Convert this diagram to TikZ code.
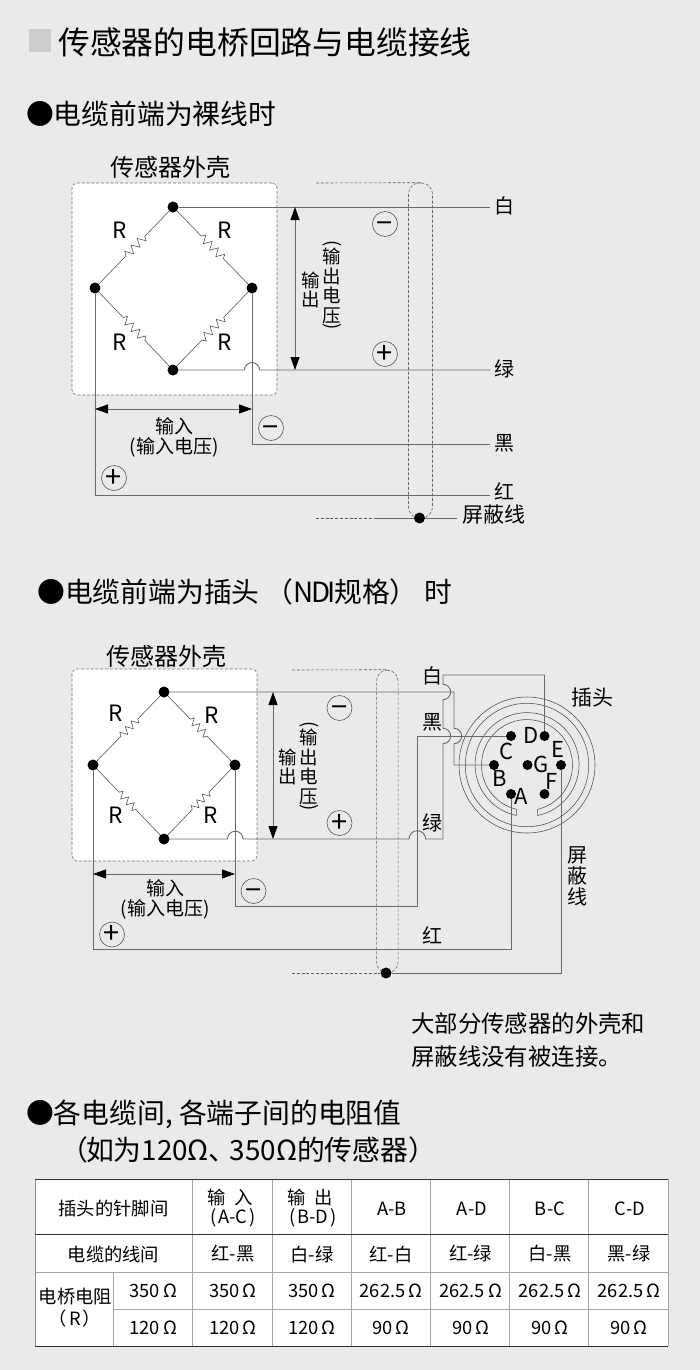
\documentclass[tikz,border=0pt]{standalone}
\usepackage{fontspec}
\setmainfont{Noto Sans CJK SC}
\usetikzlibrary{positioning}
\usetikzlibrary{arrows.meta}
\usetikzlibrary{decorations.pathmorphing}
\definecolor{panelbg}{HTML}{E9EBEA}
\definecolor{wirecol}{HTML}{6A6A6A}
\newcommand{\fs}[1]{\fontsize{#1}{#1}\selectfont}
\newcommand{\lowminus}{\smash{\raisebox{-9.5pt}{−}}}
\tikzset{
  knot/.style={draw=none, fill=black, circle, inner sep=0pt, minimum size=11pt},
  pin/.style={draw=none, fill=black, circle, inner sep=0pt, minimum size=10pt},
  wire/.style={draw=wirecol, line width=0.9pt},
  resistor/.style={draw=black!70, line width=0.55pt, decorate},
  shell/.style={draw=black!55, fill=white, line width=0.6pt, rounded corners=5pt, dash pattern=on 3pt off 1.8pt, inner sep=0pt},
  cable/.style={draw=black!60, line width=0.6pt, rounded corners=11pt, dash pattern=on 3pt off 1.8pt, inner sep=0pt},
  dashwire/.style={draw=black!65, line width=0.6pt, dash pattern=on 3pt off 1.8pt},
  sign/.style={draw=black!65, circle, line width=0.6pt, inner sep=0pt, minimum size=25pt, font=\fs{29}},
  meas/.style={draw=wirecol, line width=0.9pt, <->, >={Triangle[length=13pt,width=9pt,color=black]}},
  txt/.style={inner sep=0pt, font=\fs{20}},
  small/.style={inner sep=0pt, font=\fs{19}},
  head/.style={inner sep=0pt, anchor=west, font=\fs{27.8}},
  cell/.style={inner sep=0pt, font=\fs{18.3}},
  pinname/.style={inner sep=0pt, font=\fs{22}},
  resname/.style={inner sep=0pt, font=\fs{22.5}},
  stack/.style={inner sep=0pt, align=center, font=\fontsize{18.5}{19.5}\selectfont},
  bracket/.style={inner sep=0pt, rotate=-90, font=\fs{18.5}}
}

\begin{document}
\begin{tikzpicture}[x=1pt, y=-1pt]
  \useasboundingbox[fill=panelbg] (0,0) rectangle (700,1370);

  \fill[black!20] (29,29) rectangle (51,52);
  \node (title) [inner sep=0pt, anchor=west, font=\fs{31.8}] at (58,42) {传感器的电桥回路与电缆接线};
  \node (headA) [head] at (26,114) {●电缆前端为裸线时};

  \node (shellA) [shell, minimum width=205pt, minimum height=212pt] at (174.5,289) {};
  \node (capA) [inner sep=0pt, font=\fs{24}] at (170,167.5) {传感器外壳};
  \node (cableA) [cable, minimum width=24pt, minimum height=335pt] at (420.5,350.5) {};

  \node (topA) [knot] at (173,207) {};
  \node (leftA) [knot] at (95,288) {};
  \node (rightA) [knot] at (252,288) {};
  \node (botA) [knot] at (173,370) {};
  \node (shldA) [knot, minimum size=11pt] at (419.5,518) {};

  \coordinate (whiteA) at (490,207);
  \coordinate (greenA) at (490,370);
  \coordinate (blackA) at (490,444);
  \coordinate (redA) at (490,495);
  \coordinate (shldendA) at (457,518);
  \coordinate (shldinA) at (375,518);
  \coordinate (dashinA) at (316,518);
  \coordinate (dashtopA) at (316,183);

  \begin{scope}[decoration={zigzag, segment length=9pt, amplitude=4pt, pre length=35pt, post length=35pt}]
    \draw[resistor] (topA) -- (leftA);
    \draw[resistor] (topA) -- (rightA);
    \draw[resistor] (leftA) -- (botA);
    \draw[resistor] (rightA) -- (botA);
  \end{scope}

  \draw[wire] (topA) -- (whiteA);
  \draw[wire] (botA) -- (244.5,370) arc[start angle=180, end angle=0, radius=7.5pt] -- (greenA);
  \draw[wire] (rightA) |- (blackA);
  \draw[wire] (leftA) |- (redA);
  \draw[wire] (shldinA) -- (shldA) -- (shldendA);
  \draw[dashwire] (dashtopA) -- (cableA.north);
  \draw[dashwire] (dashinA) -- (shldinA);

  \draw[meas] (295,207) -- (295,370);
  \draw[meas] (95,409) -- (252,409);

  \node (rA1) [resname] at (120,230) {R};
  \node (rA2) [resname] at (225,230) {R};
  \node (rA3) [resname] at (120,342) {R};
  \node (rA4) [resname] at (225,342) {R};
  \node (minusA1) [sign] at (385,224) {\lowminus};
  \node (plusA1) [sign] at (385,354) {+};
  \node (minusA2) [sign] at (271,428) {\lowminus};
  \node (plusA2) [sign] at (114,478) {+};
  \node (inA) [small] at (174,426) {输入};
  \node (involtA) [small] at (174,447) {(输入电压)};
  \node (outA) [stack] at (310.5,290) {输\\出};
  \node (outvoltA) [stack] at (332,286) {输\\出\\电\\压};
  \node (brAa) [bracket] at (332,244) {(};
  \node (brAb) [bracket] at (332,327) {)};
  \node (wtA) [txt] at (504,206) {白};
  \node (grA) [txt] at (504,369) {绿};
  \node (bkA) [txt] at (504,443) {黑};
  \node (rdA) [txt] at (504,491) {红};
  \node (shlabA) [inner sep=0pt, font=\fs{21}] at (494,515) {屏蔽线};

  \node (headB) [head] at (37,592) {●电缆前端为插头\hspace{6pt}（N\kern-2.5pt D\kern-3pt I\kern-1pt 规格）\hspace{7pt}时};

  \node (shellB) [shell, minimum width=185pt, minimum height=192pt] at (164.5,765) {};
  \node (capB) [inner sep=0pt, font=\fs{24}] at (166,656.5) {传感器外壳};
  \node (cableB) [cable, minimum width=21.5pt, minimum height=303pt] at (387.3,821.5) {};

  \node (topB) [knot] at (164,692) {};
  \node (leftB) [knot] at (93,765) {};
  \node (rightB) [knot] at (235,765) {};
  \node (botB) [knot] at (164,839) {};
  \node (shldB) [knot] at (386,973) {};

  \coordinate (plug) at (527,765);
  \draw[draw=black!70, line width=0.55pt] (plug) circle[radius=68pt];
  \draw[draw=black!70, line width=0.55pt] (plug) circle[radius=61.7pt];
  \draw[draw=black!70, line width=0.55pt] (516.3,809.3) arc[start angle=256.4, end angle=-76.4, radius=45.5pt]
    -- (537.7,815.5) arc[start angle=-78.2, end angle=258.2, radius=52pt] -- cycle;

  \node (pinA) [pin] at (511,794) {};
  \node (pinB) [pin] at (494,765) {};
  \node (pinC) [pin] at (511,736) {};
  \node (pinD) [pin] at (544.5,736) {};
  \node (pinE) [pin] at (561,765) {};
  \node (pinF) [pin] at (544.5,794) {};
  \node (pinG) [pin] at (527.5,765) {};

  \begin{scope}[decoration={zigzag, segment length=8pt, amplitude=3.6pt, pre length=32pt, post length=32pt}]
    \draw[resistor] (topB) -- (leftB);
    \draw[resistor] (topB) -- (rightB);
    \draw[resistor] (leftB) -- (botB);
    \draw[resistor] (rightB) -- (botB);
  \end{scope}

  \coordinate (cornW) at (443,675);
  \coordinate (cornK) at (417,906);
  \coordinate (cornR) at (93,949);
  \coordinate (dashinB) at (292,973);
  \coordinate (dashtopB) at (292,670);

  \draw[wire] (topB) -- (454,692) -- (454,728.3) arc[start angle=90, end angle=-90, radius=7.7pt] -- (454,765) -- (pinB);
  \draw[wire] (botB) -- (227.5,839) arc[start angle=180, end angle=0, radius=7.8pt]
    -- (409,839) arc[start angle=180, end angle=0, radius=8.3pt]
    -- (443,839) -- (443,743.7) arc[start angle=-90, end angle=90, radius=7.7pt]
    -- (443,699.7) arc[start angle=-90, end angle=90, radius=7.7pt]
    -- (cornW) -| (pinD);
  \draw[wire] (rightB) |- (cornK) -- (pinC -| cornK) -- (pinC);
  \draw[wire] (leftB) -- (cornR) -| (pinA);
  \draw[wire] (shldB) -| (pinE);
  \draw[dashwire] (dashtopB) -- (cableB.north);
  \draw[dashwire] (dashinB) -- (shldB);

  \draw[meas] (273,692) -- (273,839);
  \draw[meas] (93,874) -- (235,874);

  \node (rB1) [resname] at (116,713) {R};
  \node (rB2) [resname] at (212,715) {R};
  \node (rB3) [resname] at (116,815) {R};
  \node (rB4) [resname] at (211,815) {R};
  \node (minusB1) [sign] at (339.5,708) {\lowminus};
  \node (plusB1) [sign] at (339.5,823) {+};
  \node (minusB2) [sign] at (253.5,891) {\lowminus};
  \node (plusB2) [sign] at (112,934.5) {+};
  \node (inB) [small] at (165,888) {输入};
  \node (involtB) [small] at (165,909) {(输入电压)};
  \node (outB) [stack] at (288,767) {输\\出};
  \node (outvoltB) [stack] at (309,767) {输\\出\\电\\压};
  \node (brBa) [bracket] at (309,725) {(};
  \node (brBb) [bracket] at (309,808) {)};
  \node (wtB) [txt] at (432,676) {白};
  \node (bkB) [txt] at (432,722) {黑};
  \node (grB) [txt] at (432,823) {绿};
  \node (rdB) [txt] at (432,935) {红};
  \node (plugname) [inner sep=0pt, font=\fs{21}] at (592,698) {插头};
  \node (shlabB) [stack, font=\fontsize{20}{21}\selectfont] at (577,876) {屏\\蔽\\线};
  \node (nameA) [pinname] at (521,796) {A};
  \node (nameB) [pinname] at (500,778) {B};
  \node (nameC) [pinname] at (507,751) {C};
  \node (nameD) [pinname] at (531,735) {D};
  \node (nameE) [pinname] at (558,749) {E};
  \node (nameF) [pinname] at (552,781) {F};
  \node (nameG) [pinname] at (541,764) {G};

  \node (noteA) [inner sep=0pt, anchor=west, font=\fs{23.4}] at (411,1024) {大部分传感器的外壳和};
  \node (noteB) [inner sep=0pt, anchor=west, font=\fs{23.4}] at (411,1057) {屏蔽线没有被连接。};

  \node (headC) [head] at (26,1114) {●各电缆间, 各端子间的电阻值};
  \node (headD) [head] at (60,1150) {（\hspace{-2pt}如为120Ω、\hspace{-7pt}350Ω的传感器）};

  \fill[white] (35,1179.3) rectangle (668.3,1346);
  \foreach \xa in {192.7,272.3,351.3,430.3,509.3,588.3,668.3}
    \draw[black!35, line width=0.8pt] (\xa,1179.3) -- (\xa,1346);
  \draw[black!35, line width=0.8pt] (113.7,1272.3) -- (113.7,1346);
  \draw[black!35, line width=0.8pt] (35,1272.3) -- (668.3,1272.3);
  \draw[black!35, line width=0.8pt] (113.7,1309.3) -- (668.3,1309.3);
  \draw[black!45, line width=0.8pt] (35,1179.3) -- (35,1346);
  \foreach \ya in {1179.3,1234,1346}
    \draw[black!80, line width=0.8pt] (35,\ya) -- (668.3,\ya);

  \node (hdpin) [cell] at (113.5,1209) {插头的针脚间};
  \node (hdwire) [cell] at (113.5,1254) {电缆的线间};
  \node (hdres) [cell] at (75.5,1297) {电桥电阻};
  \node (hdr) [cell] at (75,1319) {（\hspace{2pt}R\hspace{2pt}）};
  \node (ra0) [cell] at (153.3,1291) {350\,Ω};
  \node (rb0) [cell] at (153.3,1328) {120\,Ω};
  \node (hd1a) [cell] at (230.5,1197) {输\hspace{9pt}入};
  \node (hd1b) [cell] at (233,1218) {(\hspace{2pt}A-C\hspace{2pt})};
  \node (hd2a) [cell] at (310,1197) {输\hspace{9pt}出};
  \node (hd2b) [cell] at (313,1218) {(\hspace{2pt}B-D\hspace{2pt})};
  \foreach \xa/\hd [count=\k] in {392/A-B, 472/A-D, 550/B-C, 630/C-D}
    \node (hdp\k) [cell] at (\xa,1209) {\hd};
  \foreach \xa/\wr/\ra/\rb [count=\k] in {233/红-黑/350/120, 312/白-绿/350/120, 391/红-白/262.5/90, 470.7/红-绿/262.5/90, 550/白-黑/262.5/90, 629/黑-绿/262.5/90} {
    \node (wr\k) [cell] at (\xa,1254) {\wr};
    \node (ra\k) [cell] at (\xa,1291) {\ra\,Ω};
    \node (rb\k) [cell] at (\xa,1328) {\rb\,Ω};
  }
\end{tikzpicture}
\end{document}
